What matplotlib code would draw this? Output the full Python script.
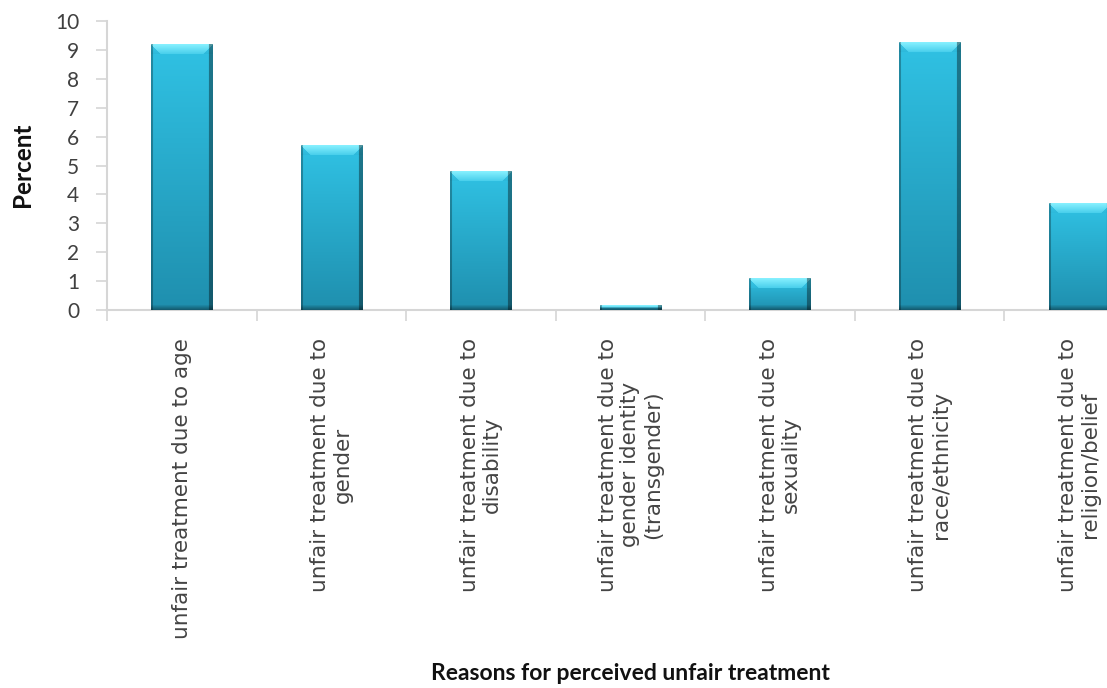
import numpy as np
import matplotlib
matplotlib.use("Agg")
import matplotlib.pyplot as plt
from matplotlib.colors import to_rgb

categories = [
    "unfair treatment due to age",
    "unfair treatment due to\ngender",
    "unfair treatment due to\ndisability",
    "unfair treatment due to\ngender identity\n(transgender)",
    "unfair treatment due to\nsexuality",
    "unfair treatment due to\nrace/ethnicity",
    "unfair treatment due to\nreligion/belief",
]
percent = [9.2, 5.7, 4.8, 0.14, 1.1, 9.25, 3.7]
y_ticks = list(range(0, 11))

W, H = 1107, 688
fig = plt.figure(figsize=(W / 100, H / 100), dpi=100)
ax = fig.add_axes([107 / W, 1 - 310 / H, 1047 / W, 289 / H])

bar_width = 0.41
x = np.arange(len(categories))
ax.set_xlim(-0.5, len(categories) - 0.5)
ax.set_ylim(0, 10)

bars = ax.bar(x, percent, width=bar_width, color="#2aaed0", zorder=2)


def lerp(c1, c2, t):
    a, b = np.array(to_rgb(c1)), np.array(to_rgb(c2))
    return a + (b - a) * t


def bevel_image(w, h):
    """Pixel shading for a bevelled bar of w x h pixels."""
    w, h = max(int(round(w)), 4), max(int(round(h)), 2)
    img = np.zeros((h, w, 3))
    for r in range(h):
        t = r / max(h - 1, 1)
        img[r, :, :] = lerp("#30c2e4", "#1f8fae", t)
    b = min(10, h // 2)
    for r in range(b):
        for c in range(w):
            if r <= c < w - r:
                img[r, c] = lerp("#86f0ff", "#45cdeb", r / max(b, 1))
            else:
                img[r, c] = lerp("#3cc8e8", "#2cb8da", r / max(b, 1))
    # side and bottom edges
    img[:, :2] = img[:, :2] * 0.72
    img[:, -4:] = img[:, -4:] * 0.62
    nb = min(5, h // 2)
    for k in range(nb):
        img[h - 1 - k, :] = img[h - 1 - k, :] * (0.65 + 0.07 * k)
    return np.clip(img, 0, 1)


fig.canvas.draw()
for rect, val in zip(bars, percent):
    x0 = rect.get_x()
    x1 = x0 + rect.get_width()
    p0 = ax.transData.transform((x0, 0))
    p1 = ax.transData.transform((x1, val))
    img = bevel_image(p1[0] - p0[0], p1[1] - p0[1])
    ax.imshow(img, extent=[x0, x1, 0, val], origin="upper", aspect="auto",
              interpolation="bilinear", zorder=3)

ax.set_xlim(-0.5, len(categories) - 0.5)
ax.set_ylim(0, 10)

grey = "#d6d6d6"
for side in ["top", "right"]:
    ax.spines[side].set_visible(False)
for side in ["left", "bottom"]:
    ax.spines[side].set_color(grey)
    ax.spines[side].set_linewidth(1.5)

ax.set_yticks(y_ticks)
ax.set_yticklabels([str(v) for v in y_ticks], fontfamily="Lato", fontsize=15,
                   color="#404040")
ax.tick_params(axis="y", length=8, width=1.2, color=grey, pad=12)

ax.set_xticks(x)
ax.set_xticks(np.arange(-0.5, len(categories)), minor=True)
ax.tick_params(axis="x", which="major", length=0, pad=20)
ax.tick_params(axis="x", which="minor", length=8, width=1.2, color=grey)
ax.set_xticklabels(categories, rotation=90, ha="center", va="top",
                   multialignment="center", fontfamily="DejaVu Sans",
                   fontsize=15.5, color="#444444", linespacing=1.15)

fig.text(22 / W, 1 - 165 / H, "Percent", rotation=90, ha="center", va="center",
         fontfamily="Lato", fontweight="bold", fontsize=17.5, color="#111111")
fig.text(630 / W, 1 - 673 / H, "Reasons for perceived unfair treatment",
         ha="center", va="center", fontfamily="Lato", fontweight="bold",
         fontsize=16.5, color="#111111")

fig.savefig("out.png", dpi=100, facecolor="white")
